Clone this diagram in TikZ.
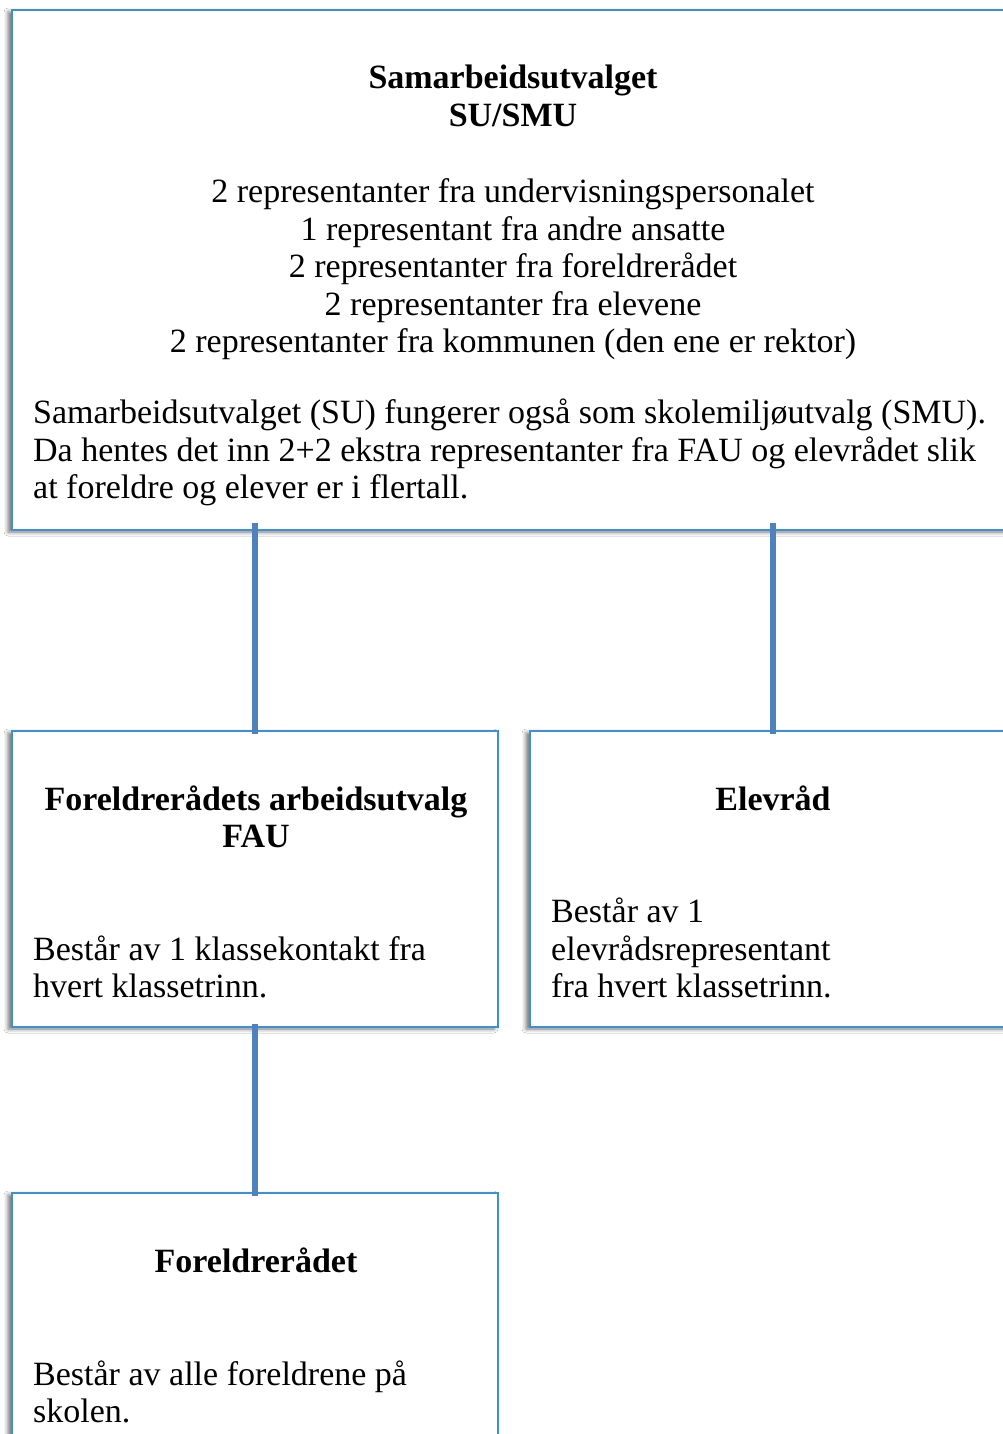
\documentclass[tikz,border=0pt]{standalone}
\usepackage{fontspec}
\setmainfont{Liberation Serif}
\usetikzlibrary{shadows.blur,calc}
\definecolor{boxblue}{HTML}{3F8FD8}
\definecolor{linkblue}{HTML}{4F81BD}
\tikzset{
  box/.style={draw=boxblue, line width=1.5pt, fill=white, rectangle, inner sep=0pt,
    blur shadow={shadow xshift=-4pt, shadow yshift=-2pt, shadow blur radius=4pt, shadow opacity=55}},
  txt/.style={inner sep=0pt, font=\fontsize{34}{37.5}\selectfont},
  head/.style={inner sep=0pt, font=\fontsize{34}{37.5}\selectfont\bfseries},
  link/.style={draw=linkblue, line width=6pt}
}
\begin{document}
\begin{tikzpicture}[x=1pt,y=-1pt]
\useasboundingbox (0,0) rectangle (1003,1434);
\begin{scope}
\clip (0,0) rectangle (1003,1434);
\fill[white] (0,0) rectangle (1003,1434);
% boxes
\node[box, minimum width=1002pt, minimum height=520pt] (su) at (513,270) {};
\node[box, minimum width=486pt, minimum height=296pt] (fau) at (255,879) {};
\node[box, minimum width=486pt, minimum height=296pt] (elev) at (773,879) {};
\node[box, minimum width=486pt, minimum height=260pt] (fr) at (255,1323) {};
% connectors
\draw[link] ($(fau.north |- su.south)+(0,-8)$) -- ($(fau.north)+(0,4)$);
\draw[link] ($(elev.north |- su.south)+(0,-8)$) -- ($(elev.north)+(0,4)$);
\draw[link] ($(fau.south)+(0,-4)$) -- ($(fr.north)+(0,4)$);
% top box text
\node[head, anchor=base] (suh1) at (513,89) {Samarbeidsutvalget};
\node[head, anchor=base] (suh2) at (513,127) {SU/SMU};
\node[txt, anchor=base] (sul1) at (513,202) {2 representanter fra undervisningspersonalet};
\node[txt, anchor=base] (sul2) at (513,240) {1 representant fra andre ansatte};
\node[txt, anchor=base] (sul3) at (513,277) {2 representanter fra foreldrerådet};
\node[txt, anchor=base] (sul4) at (513,315) {2 representanter fra elevene};
\node[txt, anchor=base] (sul5) at (513,352) {2 representanter fra kommunen (den ene er rektor)};
\node[txt, anchor=base west] (sup1) at (33,423) {Samarbeidsutvalget (SU) fungerer også som skolemiljøutvalg (SMU).};
\node[txt, anchor=base west] (sup2) at (33,461) {Da hentes det inn 2+2 ekstra representanter fra FAU og elevrådet slik};
\node[txt, anchor=base west] (sup3) at (33,498) {at foreldre og elever er i flertall.};
% FAU text
\node[head, anchor=base] (fauh1) at (256,810) {Foreldrerådets arbeidsutvalg};
\node[head, anchor=base] (fauh2) at (256,847) {FAU};
\node[txt, anchor=base west] (faul1) at (33,960) {Består av 1 klassekontakt fra};
\node[txt, anchor=base west] (faul2) at (33,997) {hvert klassetrinn.};
% Elevråd text
\node[head, anchor=base] (elevh) at (773,810) {Elevråd};
\node[txt, anchor=base west] (elevl1) at (551,922) {Består av 1};
\node[txt, anchor=base west] (elevl2) at (551,960) {elevrådsrepresentant};
\node[txt, anchor=base west] (elevl3) at (551,997) {fra hvert klassetrinn.};
% Foreldrerådet text
\node[head, anchor=base] (frh) at (256,1272) {Foreldrerådet};
\node[txt, anchor=base west] (frl1) at (33,1385) {Består av alle foreldrene på};
\node[txt, anchor=base west] (frl2) at (33,1422) {skolen.};
\end{scope}
\end{tikzpicture}
\end{document}
